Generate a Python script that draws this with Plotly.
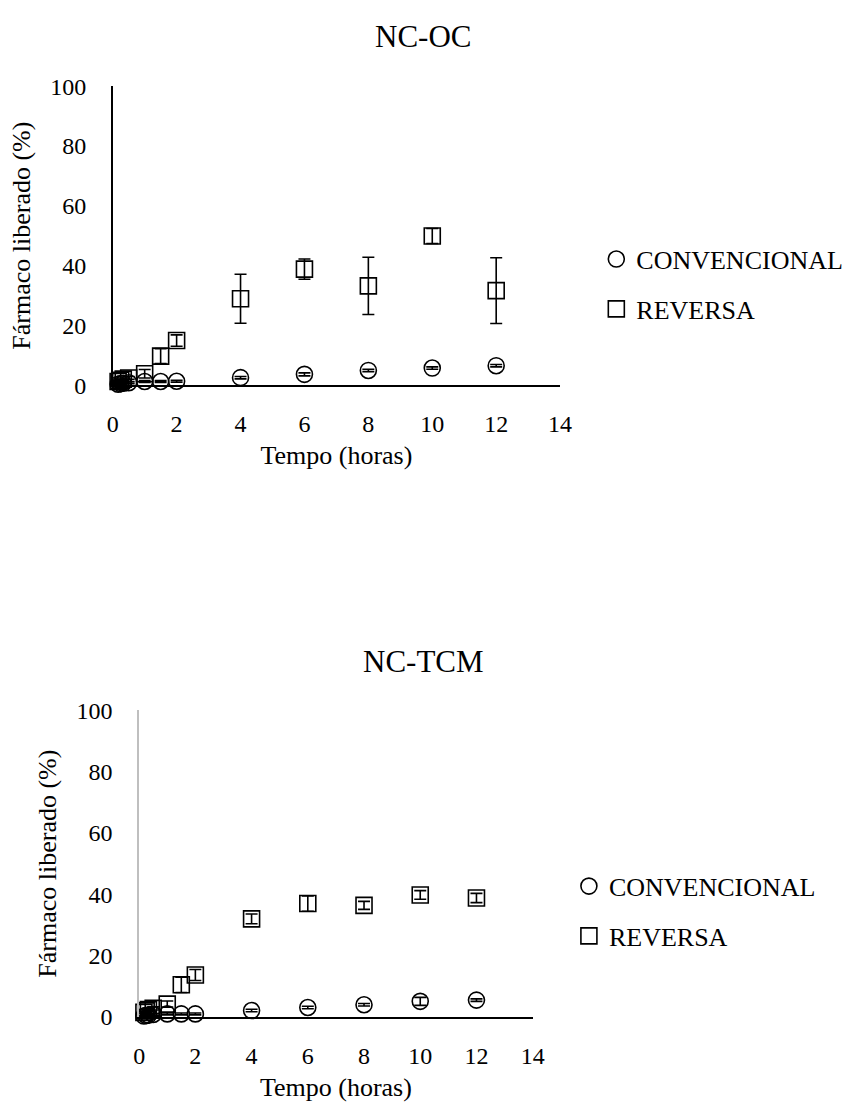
import plotly.graph_objects as go

# Sampling times (hours)
tempo = [0.17, 0.25, 0.33, 0.5, 1, 1.5, 2, 4, 6, 8, 10, 12]

# NC-OC release (%) and standard deviations
oc_convencional = [0.3, 0.5, 0.6, 0.8, 1.2, 1.2, 1.3, 2.5, 3.6, 4.9, 5.7, 6.5]
oc_convencional_dp = [0.2, 0.2, 0.2, 0.3, 0.3, 0.3, 0.3, 0.4, 0.5, 0.4, 0.4, 0.4]
oc_reversa = [1.2, 1.6, 2.0, 2.4, 3.8, 9.7, 14.9, 28.9, 38.8, 33.2, 49.9, 31.6]
oc_reversa_dp = [0.3, 0.4, 0.4, 0.5, 1.4, 2.5, 1.9, 8.2, 3.4, 9.6, 2.5, 11.0]

# NC-TCM release (%) and standard deviations
tcm_convencional = [0.3, 0.5, 0.6, 0.8, 1.0, 1.0, 1.0, 2.1, 3.1, 4.0, 5.1, 5.5]
tcm_convencional_dp = [0.2, 0.2, 0.2, 0.3, 0.3, 0.3, 0.3, 0.4, 0.4, 0.4, 1.3, 0.4]
tcm_reversa = [1.5, 2.0, 2.4, 2.8, 4.2, 10.5, 13.7, 32.0, 37.0, 36.4, 39.8, 38.8]
tcm_reversa_dp = [0.3, 0.4, 0.4, 0.5, 1.0, 2.5, 1.8, 1.6, 2.5, 1.3, 1.4, 1.5]

titulos = ["NC-OC", "NC-TCM"]
x_titulo = "Tempo (horas)"
y_titulo = "Fármaco liberado (%)"
x_ticks = [0, 2, 4, 6, 8, 10, 12, 14]
y_ticks = [0, 20, 40, 60, 80, 100]

W, H = 856, 1113
FONT = "Liberation Serif"


def px_x(v):
    return v / W


def px_y(v):
    return 1 - v / H


def serie(x, y, dp, nome, simbolo, xa, ya, legenda):
    return go.Scatter(
        x=x, y=y, mode="markers", name=nome,
        xaxis=xa, yaxis=ya, legend=legenda, legendgroup=legenda + nome,
        cliponaxis=False,
        marker=dict(symbol=simbolo, size=16, color="rgba(255,255,255,0)",
                    line=dict(color="black", width=1.6)),
        error_y=dict(type="data", array=dp, visible=True, color="black",
                     thickness=1.6, width=6),
    )


fig = go.Figure()
fig.add_trace(serie(tempo, oc_convencional, oc_convencional_dp, "CONVENCIONAL", "circle", "x", "y", "legend"))
fig.add_trace(serie(tempo, oc_reversa, oc_reversa_dp, "REVERSA", "square", "x", "y", "legend"))
fig.add_trace(serie(tempo, tcm_convencional, tcm_convencional_dp, "CONVENCIONAL", "circle", "x2", "y2", "legend2"))
fig.add_trace(serie(tempo, tcm_reversa, tcm_reversa_dp, "REVERSA", "square", "x2", "y2", "legend2"))

tick_font = dict(family=FONT, size=24, color="black")
title_font = dict(family=FONT, size=26, color="black")


def eixo_x(dom, anchor):
    return dict(domain=dom, anchor=anchor, range=[0, 14], tickvals=x_ticks,
                showgrid=False, zeroline=False, showline=True, linecolor="black",
                linewidth=1.5, ticks="", tickfont=tick_font, ticklabelstandoff=16,
                title=dict(text=x_titulo, font=title_font, standoff=10))


def eixo_y(dom, anchor, cor):
    return dict(domain=dom, anchor=anchor, range=[0, 100], tickvals=y_ticks,
                showgrid=False, zeroline=False, showline=True, linecolor=cor,
                linewidth=1.5, ticks="", tickfont=tick_font, ticklabelstandoff=20,
                title=dict(text=y_titulo, font=title_font, standoff=12))


legend_common = dict(font=dict(family=FONT, size=26, color="black"),
                     bgcolor="rgba(0,0,0,0)", tracegroupgap=13,
                     xanchor="left", yanchor="top", itemsizing="trace")

fig.update_layout(
    width=W, height=H,
    margin=dict(l=0, r=0, t=0, b=0),
    paper_bgcolor="white", plot_bgcolor="white",
    font=dict(family=FONT, color="black"),
    xaxis=eixo_x([px_x(109), px_x(566)], "y"),
    yaxis=eixo_y([px_y(381), px_y(75)], "x", "black"),
    xaxis2=eixo_x([px_x(136), px_x(538)], "y2"),
    yaxis2=eixo_y([px_y(1028), px_y(714)], "x2", "#bfbfbf"),
    legend=dict(x=px_x(603), y=px_y(228), **legend_common),
    legend2=dict(x=px_x(575), y=px_y(870), **legend_common),
    showlegend=True,
    annotations=[
        dict(text=titulos[0], x=px_x(426), y=px_y(24), xref="paper", yref="paper",
             showarrow=False, font=dict(family=FONT, size=31, color="black"),
             xanchor="center", yanchor="middle"),
        dict(text=titulos[1], x=px_x(426), y=px_y(664), xref="paper", yref="paper",
             showarrow=False, font=dict(family=FONT, size=31, color="black"),
             xanchor="center", yanchor="middle"),
    ],
)

fig.write_html("out.html")
